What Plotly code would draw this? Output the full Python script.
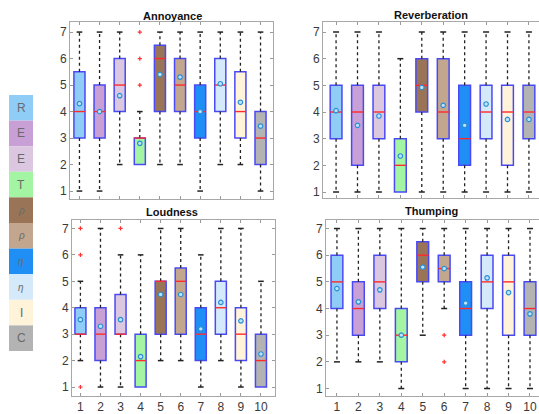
import plotly.graph_objects as go

W, H = 539, 414

categories = [1, 2, 3, 4, 5, 6, 7, 8, 9, 10]
legend_labels = ["R", "E", "E", "T", "ρ", "ρ", "η", "η", "I", "C"]
box_colors = ["#8fcdf7", "#c8a0d6", "#dcc7e0", "#a3f5a3", "#9a7456",
              "#c3a68e", "#1f8ff5", "#d4eafb", "#fff3da", "#b3b3b3"]

# Annoyance
ann_q1 = [3, 3, 4, 2, 4, 4, 3, 4, 3, 2]
ann_med = [4, 4, 5, 3, 6, 5, 4, 5, 4, 3]
ann_q3 = [5.5, 5, 6, 3, 6.5, 6, 5, 6, 5.5, 4]
ann_lo = [1, 1, 2, 2, 2, 2, 1, 2, 2, 1]
ann_hi = [7, 7, 7, 4, 7, 7, 7, 7, 7, 7]
ann_mean = [4.3, 4.0, 4.6, 2.8, 5.4, 5.3, 4.0, 5.05, 4.35, 3.45]
ann_out_x = [4, 4, 4]
ann_out_y = [5, 6, 7]

# Reverberation
rev_q1 = [3, 2, 3, 1, 4, 3, 2, 3, 2, 3]
rev_med = [4, 4, 4, 2, 5, 4, 3, 4, 4, 4]
rev_q3 = [5, 5, 5, 3, 6, 6, 5, 5, 5, 5]
rev_lo = [1, 1, 1, 1, 1, 1, 1, 1, 1, 1]
rev_hi = [7, 7, 7, 6, 7, 7, 7, 7, 7, 7]
rev_mean = [4.05, 3.5, 3.85, 2.35, 4.92, 4.25, 3.5, 4.3, 3.72, 3.72]
rev_out_x = []
rev_out_y = []

# Loudness
lou_q1 = [3, 2, 3, 1, 3, 3, 2, 3, 2, 1]
lou_med = [3, 3, 3, 2, 5, 5, 3, 4, 3, 2]
lou_q3 = [4, 4, 4.5, 3, 5, 5.5, 4, 5, 4, 3]
lou_lo = [2, 1, 1, 1, 2, 2, 1, 2, 1, 1]
lou_hi = [5, 7, 6, 6, 7, 7, 6, 7, 7, 5]
lou_mean = [3.55, 3.3, 3.55, 2.15, 4.5, 4.5, 3.2, 4.2, 3.5, 2.25]
lou_out_x = [1, 1, 1, 3]
lou_out_y = [1, 6, 7, 7]

# Thumping
thu_q1 = [4, 3, 4, 2, 5, 5, 3, 4, 3, 3]
thu_med = [5, 4, 5, 3, 6, 5.5, 4, 5, 5, 4]
thu_q3 = [6, 5, 6, 4, 6.5, 6, 5, 6, 6, 5]
thu_lo = [2, 2, 2, 1, 3, 4, 1, 1, 1, 1]
thu_hi = [7, 7, 7, 7, 7, 7, 7, 7, 7, 7]
thu_mean = [4.75, 4.25, 4.7, 3.0, 5.55, 5.5, 4.2, 5.15, 4.6, 3.8]
thu_out_x = [6, 6]
thu_out_y = [2, 3]

panels = [
    dict(title="Annoyance", q1=ann_q1, med=ann_med, q3=ann_q3, lo=ann_lo, hi=ann_hi,
         mean=ann_mean, ox=ann_out_x, oy=ann_out_y,
         px=(70, 273), py=(22, 199), xr=(0.53, 10.62), yr=(0.70, 7.38),
         xlab=False, mirror_y=True, tpos=(172, 16)),
    dict(title="Reverberation", q1=rev_q1, med=rev_med, q3=rev_q3, lo=rev_lo, hi=rev_hi,
         mean=rev_mean, ox=rev_out_x, oy=rev_out_y,
         px=(323, 539), py=(22, 198), xr=(0.39, 10.47), yr=(0.775, 7.375),
         xlab=False, mirror_y=False, tpos=(431, 15)),
    dict(title="Loudness", q1=lou_q1, med=lou_med, q3=lou_q3, lo=lou_lo, hi=lou_hi,
         mean=lou_mean, ox=lou_out_x, oy=lou_out_y,
         px=(72, 275), py=(220, 396), xr=(0.58, 10.70), yr=(0.66, 7.32),
         xlab=True, mirror_y=True, tpos=(172, 212)),
    dict(title="Thumping", q1=thu_q1, med=thu_med, q3=thu_q3, lo=thu_lo, hi=thu_hi,
         mean=thu_mean, ox=thu_out_x, oy=thu_out_y,
         px=(326, 539), py=(220, 396), xr=(0.49, 10.42), yr=(0.72, 7.32),
         xlab=True, mirror_y=False, tpos=(431, 211)),
]

BW = 0.55
CAP = 0.14

fig = go.Figure()
annotations = []
shapes = []

for i, p in enumerate(panels):
    n = "" if i == 0 else str(i + 1)
    xa, ya = "x" + n, "y" + n
    # whiskers
    wx, wy = [], []
    for c, lo, q1, q3, hi in zip(categories, p["lo"], p["q1"], p["q3"], p["hi"]):
        if hi > q3:
            wx += [c, c, None]; wy += [q3, hi, None]
        if lo < q1:
            wx += [c, c, None]; wy += [q1, lo, None]
    fig.add_trace(go.Scatter(x=wx, y=wy, mode="lines", xaxis=xa, yaxis=ya,
                             line=dict(color="#222222", width=1.3, dash="3px,3px"),
                             hoverinfo="skip", showlegend=False))
    # caps
    cx, cy = [], []
    for c, lo, q1, q3, hi in zip(categories, p["lo"], p["q1"], p["q3"], p["hi"]):
        if hi > q3:
            cx += [c - CAP, c + CAP, None]; cy += [hi, hi, None]
        if lo < q1:
            cx += [c - CAP, c + CAP, None]; cy += [lo, lo, None]
    fig.add_trace(go.Scatter(x=cx, y=cy, mode="lines", xaxis=xa, yaxis=ya,
                             line=dict(color="#222222", width=1.5),
                             hoverinfo="skip", showlegend=False))
    # boxes
    fig.add_trace(go.Bar(x=categories, base=p["q1"],
                         y=[b - a for a, b in zip(p["q1"], p["q3"])],
                         width=BW, xaxis=xa, yaxis=ya,
                         marker=dict(color=box_colors, line=dict(color="#4a4af5", width=1.5)),
                         showlegend=False, hoverinfo="skip"))
    # medians
    mx, my = [], []
    for c, m in zip(categories, p["med"]):
        mx += [c - BW / 2, c + BW / 2, None]; my += [m, m, None]
    fig.add_trace(go.Scatter(x=mx, y=my, mode="lines", xaxis=xa, yaxis=ya,
                             line=dict(color="#ff2a2a", width=1.4),
                             hoverinfo="skip", showlegend=False))
    # means
    fig.add_trace(go.Scatter(x=categories, y=p["mean"], mode="markers", xaxis=xa, yaxis=ya,
                             marker=dict(symbol="circle", size=4.5, color="#bfe3f7",
                                         line=dict(color="#2b8fd6", width=1.2)),
                             hoverinfo="skip", showlegend=False))
    # outliers
    if p["ox"]:
        fig.add_trace(go.Scatter(x=p["ox"], y=p["oy"], mode="markers", xaxis=xa, yaxis=ya,
                                 marker=dict(symbol="cross-thin", size=3,
                                             line=dict(color="#ff3030", width=1.2)),
                                 hoverinfo="skip", showlegend=False))

    xd = [p["px"][0] / W, p["px"][1] / W]
    yd = [1 - p["py"][1] / H, 1 - p["py"][0] / H]
    fig.layout["xaxis" + n] = dict(
        domain=xd, range=list(p["xr"]), anchor=ya, tickmode="array",
        tickvals=categories, ticktext=[str(c) for c in categories],
        showticklabels=p["xlab"], ticks="inside", ticklen=3, tickcolor="#9a9a9a",
        showline=True, linecolor="#a8a8a8", linewidth=1, mirror="ticks",
        showgrid=False, zeroline=False,
        tickfont=dict(family="Liberation Sans, Arial", size=12, color="#3a3a3a"))
    fig.layout["yaxis" + n] = dict(
        domain=yd, range=list(p["yr"]), anchor=xa, tickmode="array",
        tickvals=[1, 2, 3, 4, 5, 6, 7], ticks="inside", ticklen=3, tickcolor="#9a9a9a",
        showline=True, linecolor="#a8a8a8", linewidth=1,
        mirror="ticks" if p["mirror_y"] else False,
        showgrid=False, zeroline=False,
        tickfont=dict(family="Liberation Sans, Arial", size=12, color="#3a3a3a"))
    annotations.append(dict(text="<b>" + p["title"] + "</b>", x=p["tpos"][0] / W,
                            y=1 - p["tpos"][1] / H, xref="paper", yref="paper",
                            showarrow=False, xanchor="center", yanchor="middle",
                            font=dict(family="Liberation Sans, Arial", size=11, color="#111111")))

# side legend of colour keys
LX0, LX1, LY0, LSTEP = 9, 33, 95, 25.6
for k, (lab, col) in enumerate(zip(legend_labels, box_colors)):
    y0 = LY0 + k * LSTEP
    y1 = y0 + LSTEP
    shapes.append(dict(type="rect", xref="paper", yref="paper",
                       x0=LX0 / W, x1=LX1 / W, y0=1 - y1 / H, y1=1 - y0 / H,
                       fillcolor=col, line=dict(width=0), layer="below"))
    greek = lab in ("ρ", "η")
    annotations.append(dict(text=("<i>" + lab + "</i>") if greek else lab,
                            x=(LX0 + LX1) / 2 / W, y=1 - (y0 + y1) / 2 / H,
                            xref="paper", yref="paper", showarrow=False,
                            xanchor="center", yanchor="middle",
                            font=dict(family="Liberation Sans, Arial",
                                      size=10 if greek else 12, color="#6a6a6a")))

fig.update_layout(width=W, height=H, margin=dict(l=0, r=0, t=0, b=0),
                  paper_bgcolor="white", plot_bgcolor="white", barmode="overlay",
                  annotations=annotations, shapes=shapes)

fig.write_html("out.html")
